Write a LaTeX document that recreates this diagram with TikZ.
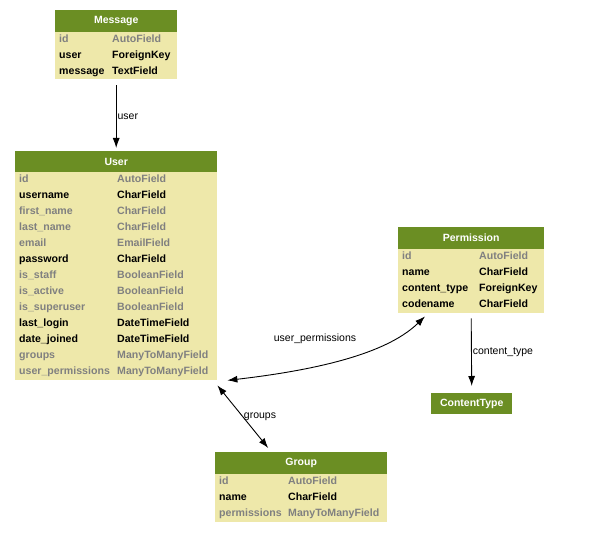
\documentclass[tikz,border=0pt]{standalone}
\usepackage{fontspec}
\setmainfont{Liberation Sans}
\usetikzlibrary{arrows.meta}
\definecolor{hdrgreen}{HTML}{6B8E23}
\definecolor{bodyyellow}{HTML}{EEE8AA}
\definecolor{fieldgray}{HTML}{808080}
\tikzset{
  model/.style={fill=hdrgreen, text=white, inner sep=0pt, anchor=north west,
    font=\bfseries\fontsize{10.5}{12}\selectfont, minimum height=22pt},
  fields/.style={fill=bodyyellow, inner sep=0pt, anchor=north west},
  fld/.style={anchor=west, inner sep=0pt, text height=7.6pt, text depth=2.2pt,
    font=\bfseries\fontsize{10.6}{12}\selectfont},
  rlabel/.style={inner sep=1pt, font=\fontsize{10.5}{12}\selectfont},
  tip/.style={line width=0.9pt, -{Latex[length=10pt,width=7pt]}},
  both/.style={line width=0.9pt, {Latex[length=10pt,width=7pt]}-{Latex[length=10pt,width=7pt]}}
}
\begin{document}
\begin{tikzpicture}[x=1pt,y=-1pt]
	\useasboundingbox (0,0) rectangle (600,537);
	% Message
	\node[model, minimum width=122pt] (message) at (55,10) {Message};
	\node[fields, minimum width=122pt, minimum height=47pt] (messagebody) at (55,32) {};
	\foreach \f/\t/\c [count=\i] in {id/AutoField/fieldgray, user/ForeignKey/black, message/TextField/black} {
		\node[fld, text=\c] (messagef\i) at (59,24+16*\i) {\f};
		\node[fld, text=\c] (messaget\i) at (112,24+16*\i) {\t};
	}
	% User
	\node[model, minimum width=202pt] (user) at (15,151) {User};
	\node[fields, minimum width=202pt, minimum height=208pt] (userbody) at (15,172) {};
	\foreach \f/\t/\c [count=\i] in {id/AutoField/fieldgray, username/CharField/black,
		first\_name/CharField/fieldgray, last\_name/CharField/fieldgray, email/EmailField/fieldgray,
		password/CharField/black, is\_staff/BooleanField/fieldgray, is\_active/BooleanField/fieldgray,
		is\_superuser/BooleanField/fieldgray, last\_login/DateTimeField/black,
		date\_joined/DateTimeField/black, groups/ManyToManyField/fieldgray,
		user\_permissions/ManyToManyField/fieldgray} {
		\node[fld, text=\c] (userf\i) at (19,164+16*\i) {\f};
		\node[fld, text=\c] (usert\i) at (117,164+16*\i) {\t};
	}
	% Permission
	\node[model, minimum width=146pt] (perm) at (398,227) {Permission};
	\node[fields, minimum width=146pt, minimum height=64pt] (permbody) at (398,249) {};
	\foreach \f/\t/\c [count=\i] in {id/AutoField/fieldgray, name/CharField/black,
		content\_type/ForeignKey/black, codename/CharField/black} {
		\node[fld, text=\c] (permf\i) at (402,241+16*\i) {\f};
		\node[fld, text=\c] (permt\i) at (479,241+16*\i) {\t};
	}
	% ContentType
	\node[model, minimum width=81pt, minimum height=21pt] (ctype) at (431,393) {ContentType};
	% Group
	\node[model, minimum width=172pt] (group) at (215,452) {Group};
	\node[fields, minimum width=172pt, minimum height=48pt] (groupbody) at (215,474) {};
	\foreach \f/\t/\c [count=\i] in {id/AutoField/fieldgray, name/CharField/black,
		permissions/ManyToManyField/fieldgray} {
		\node[fld, text=\c] (groupf\i) at (219,466+16*\i) {\f};
		\node[fld, text=\c] (groupt\i) at (288,466+16*\i) {\t};
	}
	% relations
	\draw[tip] ([yshift=-6pt]messagebody.south) -- ([yshift=3pt]user.north)
		node[rlabel, midway, right] (userlbl) {user};
	\draw[tip] ([yshift=-5pt]permbody.south) -- ([yshift=7pt]ctype.north)
		node[rlabel, midway, right] (ctypelbl) {content\_type};
	\draw[both] ([xshift=10pt]userbody.south east) .. controls +(103,-12) and +(-35,34) .. ([xshift=27pt,yshift=-3pt]permbody.south west);
	\node[rlabel] (permlbl) at (315,339) {user\_permissions};
	\draw[both] ([yshift=-5pt]userbody.south east) -- ([xshift=-33pt,yshift=4pt]group.north);
	\node[rlabel] (grouplbl) at (260,417) {groups};
\end{tikzpicture}
\end{document}
